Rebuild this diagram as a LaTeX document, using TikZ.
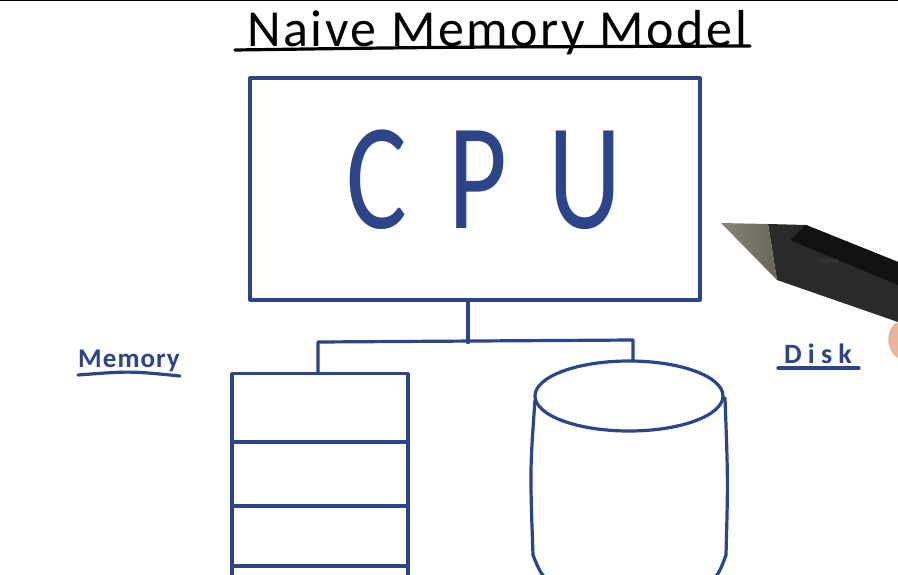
\documentclass[tikz,border=0pt]{standalone}
\usepackage{fontspec}
\setmainfont{Carlito}
\definecolor{ink}{HTML}{2E4488}
\definecolor{pentip}{HTML}{6A6656}
\definecolor{penbody}{HTML}{2A2A28}
\definecolor{skin}{HTML}{E8B49A}
\begin{document}
\begin{tikzpicture}[x=1pt,y=-1pt, line cap=round, line join=round,
  inkline/.style={draw=ink, line width=3.2pt},
  boxnode/.style={inkline, inner sep=0pt},
  lbl/.style={inner sep=0pt, anchor=base, text=ink}]
\useasboundingbox (0,0) rectangle (898,574);
\fill[white] (0,0) rectangle (898,574);
\draw[line width=1.2pt] (0,0.6) -- (898,0.6);

% title
\node[inner sep=0pt, anchor=base] (title) at (497,46)
  {\fontsize{52}{56}\selectfont\addfontfeature{LetterSpace=5}Naive Memory Model};
\draw[line width=3.2pt] (235,50) .. controls (450,47) .. (750,46);

% CPU
\node[boxnode, minimum width=450pt, minimum height=222pt] (cpu) at (475,189) {};
\node[lbl] (cputext) at (484,228)
  {\scalebox{0.75}[1]{\fontsize{152}{152}\selectfont\addfontfeature{LetterSpace=36}CPU}};

\begin{scope}
\clip (0,0) rectangle (898,574);
% memory stack
\node[boxnode, minimum width=176pt, minimum height=230pt, anchor=north] (mem) at (320,372) {};
\draw[inkline] (232,442) -- (408,442);
\draw[inkline] (232,506) -- (408,506);
\draw[inkline] (232,566) -- (408,566);
% disk cylinder
\draw[inkline] (629,396) ellipse [x radius=94, y radius=35];
\draw[inkline] (535,400) .. controls (530,470) .. (533,555) .. controls (545,585) .. (610,592);
\draw[inkline] (725,398) .. controls (728,480) .. (726,555) .. controls (715,585) .. (650,592);
\end{scope}

% connectors
\coordinate (memtop) at (318,372);
\coordinate (disktop) at (633,361);
\coordinate (busL) at (318,342);
\coordinate (busR) at (633,340);
\draw[inkline] ([xshift=-7pt]cpu.south) -- ++(0,41) coordinate (busM);
\draw[inkline] (memtop) -- (busL) -- (busR) -- (disktop);

% labels
\node[lbl] (memlbl) at (129,367)
  {\fontsize{27}{27}\selectfont\bfseries\addfontfeature{LetterSpace=4}Memory};
\draw[inkline] (78,375) .. controls (130,371) .. (180,376);
\node[lbl] (disklbl) at (818,363)
  {\fontsize{28}{28}\selectfont\bfseries\addfontfeature{LetterSpace=22}Disk};
\draw[inkline] (778,368) -- (859,368);

% pen
\fill[penbody] (768,224) -- (806,225) -- (898,262) -- (898,322) -- (777,280) -- cycle;
\fill[black!60!penbody] (806,225) -- (898,262) -- (898,285) -- (790,240) -- cycle;
\shade[left color=pentip!80!white, right color=pentip] (721,223) -- (768,224) -- (777,280) -- cycle;
\fill[black!80] (820,259) rectangle (838,263);
\fill[skin] (898,322) .. controls (886,326) and (884,350) .. (898,358) -- cycle;
\end{tikzpicture}
\end{document}
